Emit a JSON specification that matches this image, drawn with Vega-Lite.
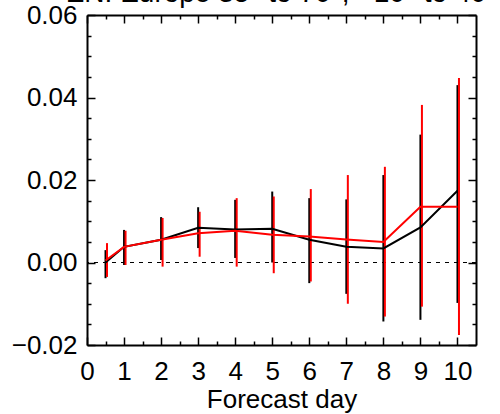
{
  "$schema": "https://vega.github.io/schema/vega-lite/v6.json",
  "width": 389,
  "height": 330,
  "autosize": "none",
  "padding": {"left": 87, "top": 15, "right": 24, "bottom": 69},
  "background": "white",
  "title": {"text": "EN: Europe 35° to 70°, −10° to 40°", "fontSize": 28, "font": "Liberation Sans", "fontWeight": "normal", "anchor": "middle", "frame": "group", "baseline": "alphabetic", "offset": -28, "color": "black"},
  "config": {
    "view": {"stroke": null},
    "axis": {"labelFont": "Liberation Sans", "titleFont": "Liberation Sans", "labelColor": "black", "titleColor": "black", "tickColor": "black", "domainColor": "black", "grid": false}
  },
  "data": {"values": [
    {"day": 0.5, "series": "black", "value": 0.0, "lo": -0.0038, "hi": 0.003},
    {"day": 1, "series": "black", "value": 0.0038, "lo": -0.0006, "hi": 0.0079},
    {"day": 2, "series": "black", "value": 0.0055, "lo": 0.0006, "hi": 0.011},
    {"day": 3, "series": "black", "value": 0.0084, "lo": 0.0035, "hi": 0.0134},
    {"day": 4, "series": "black", "value": 0.008, "lo": 0.0011, "hi": 0.0152},
    {"day": 5, "series": "black", "value": 0.0082, "lo": 0.0, "hi": 0.0172},
    {"day": 6, "series": "black", "value": 0.0055, "lo": -0.005, "hi": 0.0156},
    {"day": 7, "series": "black", "value": 0.0038, "lo": -0.0076, "hi": 0.0153},
    {"day": 8, "series": "black", "value": 0.0034, "lo": -0.0143, "hi": 0.0212},
    {"day": 9, "series": "black", "value": 0.0085, "lo": -0.0139, "hi": 0.031},
    {"day": 10, "series": "black", "value": 0.0174, "lo": -0.0098, "hi": 0.043},
    {"day": 0.5, "series": "red", "value": 0.0005, "lo": -0.0035, "hi": 0.0047},
    {"day": 1, "series": "red", "value": 0.0038, "lo": -0.0006, "hi": 0.0077},
    {"day": 2, "series": "red", "value": 0.0055, "lo": -0.001, "hi": 0.0108},
    {"day": 3, "series": "red", "value": 0.0071, "lo": 0.0014, "hi": 0.0123},
    {"day": 4, "series": "red", "value": 0.0077, "lo": -0.001, "hi": 0.0156},
    {"day": 5, "series": "red", "value": 0.0067, "lo": -0.0026, "hi": 0.016},
    {"day": 6, "series": "red", "value": 0.0063, "lo": -0.0046, "hi": 0.0178},
    {"day": 7, "series": "red", "value": 0.0056, "lo": -0.01, "hi": 0.0212},
    {"day": 8, "series": "red", "value": 0.005, "lo": -0.0131, "hi": 0.0232},
    {"day": 9, "series": "red", "value": 0.0135, "lo": -0.0107, "hi": 0.0382},
    {"day": 10, "series": "red", "value": 0.0135, "lo": -0.0176, "hi": 0.0447}
  ]},
  "resolve": {"axis": {"x": "independent", "y": "independent"}},
  "layer": [
    {
      "mark": {"type": "rule", "strokeDash": [4, 5], "strokeWidth": 1, "color": "black"},
      "encoding": {"y": {"datum": 0, "type": "quantitative", "scale": {"domain": [-0.02, 0.06], "nice": false, "zero": false}, "axis": null}}
    },
    {
      "transform": [{"filter": "datum.series === 'black'"}],
      "mark": {"type": "rule", "strokeWidth": 2, "color": "black"},
      "encoding": {
        "x": {"field": "day", "type": "quantitative", "scale": {"domain": [0, 10.5], "nice": false, "zero": false},
          "axis": {"orient": "bottom", "values": [0,1,2,3,4,5,6,7,8,9,10], "tickSize": -8, "tickWidth": 1.5, "domainWidth": 2, "labelPadding": 21, "labelFontSize": 26, "title": "Forecast day", "titleFontSize": 26, "titleFontWeight": "normal", "titlePadding": 2, "labelFlush": false}},
        "y": {"field": "lo", "type": "quantitative", "scale": {"domain": [-0.02, 0.06], "nice": false, "zero": false},
          "axis": {"orient": "left", "values": [-0.02, 0, 0.02, 0.04, 0.06], "format": ".2f", "tickSize": -8, "tickWidth": 1.5, "domainWidth": 2, "labelPadding": 18, "labelFontSize": 26, "title": null, "labelFlush": false}},
        "y2": {"field": "hi"}
      }
    },
    {
      "transform": [{"filter": "datum.series === 'red'"}],
      "mark": {"type": "rule", "strokeWidth": 2, "color": "#ff0000", "xOffset": 1.5},
      "encoding": {
        "x": {"field": "day", "type": "quantitative",
          "axis": {"orient": "bottom", "values": [0.5,1.5,2.5,3.5,4.5,5.5,6.5,7.5,8.5,9.5], "tickSize": -4, "tickWidth": 1.5, "domain": false, "labels": false, "title": null}},
        "y": {"field": "lo", "type": "quantitative",
          "axis": {"orient": "left", "values": [-0.015,-0.01,-0.005,0.005,0.01,0.015,0.025,0.03,0.035,0.045,0.05,0.055], "tickSize": -4, "tickWidth": 1.5, "domain": false, "labels": false, "title": null}},
        "y2": {"field": "hi"}
      }
    },
    {
      "transform": [{"filter": "datum.series === 'black'"}],
      "mark": {"type": "line", "strokeWidth": 2, "color": "black"},
      "encoding": {
        "x": {"field": "day", "type": "quantitative",
          "axis": {"orient": "top", "values": [0,1,2,3,4,5,6,7,8,9,10], "tickSize": -8, "tickWidth": 1.5, "domainWidth": 2, "labels": false, "title": null}},
        "y": {"field": "value", "type": "quantitative",
          "axis": {"orient": "right", "values": [-0.02, 0, 0.02, 0.04, 0.06], "tickSize": -8, "tickWidth": 1.5, "domainWidth": 2, "labels": false, "title": null}}
      }
    },
    {
      "transform": [{"filter": "datum.series === 'red'"}],
      "mark": {"type": "line", "strokeWidth": 2, "color": "#ff0000"},
      "encoding": {
        "x": {"field": "day", "type": "quantitative",
          "axis": {"orient": "top", "values": [0.5,1.5,2.5,3.5,4.5,5.5,6.5,7.5,8.5,9.5], "tickSize": -4, "tickWidth": 1.5, "domain": false, "labels": false, "title": null}},
        "y": {"field": "value", "type": "quantitative",
          "axis": {"orient": "right", "values": [-0.015,-0.01,-0.005,0.005,0.01,0.015,0.025,0.03,0.035,0.045,0.05,0.055], "tickSize": -4, "tickWidth": 1.5, "domain": false, "labels": false, "title": null}}
      }
    }
  ]
}
